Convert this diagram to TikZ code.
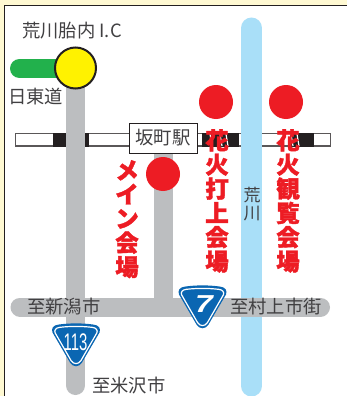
\documentclass[tikz,border=0pt]{standalone}
\usepackage{fontspec}
\setmainfont{Liberation Sans}
\newfontfamily\jp{Noto Sans CJK JP}
\newfontfamily\jpb{Noto Sans CJK JP Black}[FakeBold=1.5]
\definecolor{cream}{HTML}{FFF9D2}
\definecolor{edge}{HTML}{231F20}
\definecolor{roadgray}{HTML}{BCBEC0}
\definecolor{roadgreen}{HTML}{22B14C}
\definecolor{sun}{HTML}{FFF200}
\definecolor{fire}{HTML}{ED1C24}
\definecolor{river}{HTML}{A9DFF8}
\definecolor{shieldblue}{HTML}{0A66B2}
\definecolor{txt}{HTML}{414042}
\tikzset{
 lab/.style={font=\jp\fontsize{18.3}{18.3}\selectfont,text=txt,inner sep=0pt},
 road/.style={line width=19pt,roadgray},
 venue/.style={circle,fill=fire,minimum size=34pt,inner sep=0pt},
 vtext/.style={font=\jpb\fontsize{23.5}{24.2}\selectfont,text=fire,inner sep=0pt,align=center,anchor=north},
 shieldsign/.pic={
  \fill[shieldblue] (-17,0) .. controls (-6,-1.5) and (6,-1.5) .. (17,0)
    .. controls (23,0.5) and (25,4) .. (23.5,8) -- (6,38)
    .. controls (3,43) and (-3,43) .. (-6,38) -- (-23.5,8)
    .. controls (-25,4) and (-23,0.5) .. (-17,0) -- cycle;
  \draw[white,line width=1.2pt] (-16,2.8) .. controls (-5,1.6) and (5,1.6) .. (16,2.8)
    .. controls (20.5,3.2) and (22,6) .. (20.8,8.5) -- (4.8,36.3)
    .. controls (2.5,40) and (-2.5,40) .. (-4.8,36.3) -- (-20.8,8.5)
    .. controls (-22,6) and (-20.5,3.2) .. (-16,2.8) -- cycle;
 },
}
\begin{document}
\begin{tikzpicture}[x=1pt,y=-1pt]
\useasboundingbox (0,0) rectangle (347,396);
\fill[cream] (0,0) rectangle (347,396);
\fill[white,draw=edge,line width=1pt] (4.5,5.5) -- (347.5,5.5) -- (347.5,397) -- (4.5,397) -- cycle;
% rail
\fill[white,draw=edge!75,line width=1.2pt] (15.5,133.8) rectangle (330.5,146);
\foreach \a/\b in {53/66,85/89,202/239,290/314}{\fill[edge] (\a,133.2) rectangle (\b,146.6);}
% river
\draw[line width=21pt,river,line cap=round] (251.5,28) -- (251.5,386);
% roads
\draw[line width=19pt,roadgreen,line cap=round] (19.5,68.5) -- (70,68.5);
\draw[road,line cap=round] (75.5,70) -- (75.5,385.5);
\draw[road,line cap=round] (20,307) -- (320.5,307);
\draw[road] (163.5,150) -- (163.5,300);
% station
\node[draw=edge,line width=1pt,fill=white,minimum width=68pt,minimum height=30pt,inner sep=0pt,font=\jp\fontsize{18.4}{18.4}\selectfont,text=txt] (sta) at (163,138) {坂町駅};
% IC
\node[circle,fill=sun,draw=edge,line width=2pt,minimum size=41pt,inner sep=0pt] (ic) at (75.5,68) {};
% venues
\node[venue] (v1) at (163,174) {};
\node[venue] (v2) at (216,102) {};
\node[venue] (v3) at (286,102) {};
% labels
\node[lab,anchor=west] (l1) at (22,31) {荒川胎内 I.\kern1pt C};
\node[lab,anchor=west] (l2) at (8,97) {日東道};
\node[lab,anchor=west] (l3) at (27,307) {至新潟市};
\node[lab,anchor=west] (l4) at (92,386) {至米沢市};
\node[lab,anchor=west] (l5) at (230,307) {至村上市街};
\node[lab,align=center,font=\jp\fontsize{17}{18}\selectfont] (l6) at (252,204) {荒\\川};
% white halo of the red titles over the rail
\foreach \x in {210,220,226,281,291,297}{\draw[white,line width=1.2pt] (\x,134) -- (\x+2,146);}
% red vertical text
\node[vtext] (t1) at (127,160) {メ\\イ\\ン\\会\\場};
\node[vtext] (t2) at (217,129) {花\\火\\打\\上\\会\\場};
\node[vtext] (t3) at (288,129) {花\\火\\観\\覧\\会\\場};
% shields
\pic at (76,324.5) {shieldsign};
\node[text=white,font=\fontsize{24}{24}\selectfont,inner sep=0pt] (s1) at (75.5,342) {\scalebox{.62}[1]{113}};
\pic at (202.5,286.5) {shieldsign};
\node[text=white,font=\bfseries\itshape\fontsize{24.5}{24.5}\selectfont,inner sep=0pt] (s2) at (204,304.5) {\scalebox{1.3}[1]{7}};
\end{tikzpicture}
\end{document}
